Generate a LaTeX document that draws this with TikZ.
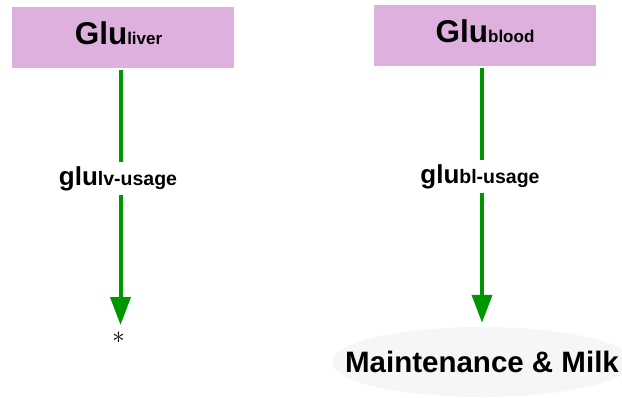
\documentclass[tikz,border=0pt]{standalone}
\usepackage{fontspec}
\setmainfont{Liberation Sans}
\usetikzlibrary{arrows.meta,shapes.geometric}

\definecolor{poolfill}{RGB}{221,176,221}
\definecolor{flowgreen}{RGB}{0,150,0}
\definecolor{sinkfill}{RGB}{246,246,246}

\newcommand{\poolname}[2]{\fontsize{31.5}{31.5}\selectfont\bfseries #1{\fontsize{17}{17}\selectfont #2}}
\newcommand{\flowname}[2]{\fontsize{26}{26}\selectfont\bfseries #1{\fontsize{19.5}{19.5}\selectfont #2}}

\tikzset{
  pool/.style={rectangle, fill=poolfill, draw=none, minimum width=222pt,
    minimum height=61pt, inner sep=0pt, text depth=8pt, align=center},
  flowlabel/.style={fill=white, inner sep=4pt, anchor=base},
  sink/.style={ellipse, fill=sinkfill, draw=none, minimum width=300pt,
    minimum height=70pt, inner sep=0pt},
  flow/.style={draw=flowgreen, line width=4pt,
    -{Triangle[width=20pt,length=28pt]}},
  flowline/.style={draw=flowgreen, line width=4pt}
}

\begin{document}
\begin{tikzpicture}[x=1pt,y=-1pt]
  \useasboundingbox (0,0) rectangle (622,397);

  % state pools
  \node[pool] (liver) at (122.5,37.5) {\poolname{Glu}{liver}\hspace*{8pt}};
  \node[pool] (blood) at (485,35.5) {\poolname{Glu}{blood}};

  % flow labels
  \node[flowlabel] (lvuse) at (118,185) {\flowname{glu}{lv-usage}};
  \node[flowlabel] (bluse) at (480,183) {\flowname{glu}{bl-usage}};

  % sinks
  \node[inner sep=0pt] (star) at (118.5,338) {\fontsize{27}{27}\selectfont$\ast$};
  \coordinate (tipL) at (120.5,325);
  \node[sink] (maint) at (482,362)
    {\makebox[0pt]{\fontsize{29.5}{29.5}\selectfont\bfseries Maintenance \& Milk}};

  % flows
  \draw[flowline, shorten <=2pt] (liver.south -| tipL) -- (lvuse.north -| tipL);
  \draw[flow] (lvuse.south -| tipL) -- (tipL);
  \draw[flowline, shorten <=2pt] (blood.south -| maint) -- (bluse.north -| maint);
  \draw[flow, shorten >=4pt] (bluse.south -| maint) -- (maint.north);
\end{tikzpicture}
\end{document}
